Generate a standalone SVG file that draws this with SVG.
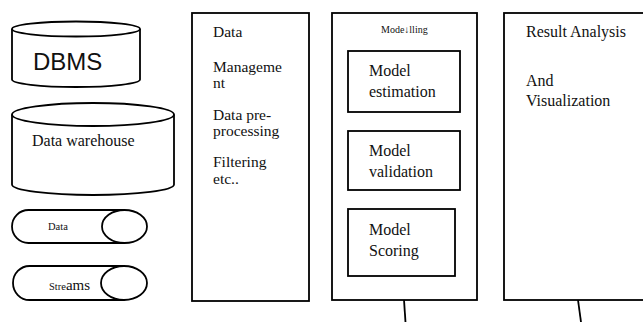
<svg xmlns="http://www.w3.org/2000/svg" width="643" height="322" viewBox="0 0 643 322">
<style>
.s{fill:#fff;stroke:#000;stroke-width:1.8}
.n{fill:none;stroke:#000;stroke-width:1.8}
.t{font-family:"Liberation Serif","Times New Roman",serif;fill:#111}
.m{font-size:16px}
.c{font-size:15.5px}
</style>
<rect width="643" height="322" fill="#fff"/>
<g id="dbms">
<path class="s" d="M12 29 V79.5 A64 7.5 0 0 0 140 79.5 V29"/>
<ellipse class="s" cx="76" cy="29" rx="64" ry="7.5"/>
<text x="33" y="70" style="font-family:'Liberation Sans',Arial,sans-serif;font-size:24px;fill:#111">DBMS</text>
</g>
<g id="warehouse">
<path class="s" d="M12 114.5 V184.5 A81 10.5 0 0 0 174 184.5 V114.5"/>
<ellipse class="s" cx="93" cy="114.5" rx="81" ry="11.5"/>
<text class="t" x="32" y="146" font-size="16">Data warehouse</text>
</g>
<g id="data-pill">
<path class="s" d="M124.5 210 H28.5 A16.5 16.5 0 0 0 28.5 243 H124.5"/>
<ellipse class="s" cx="124.5" cy="226.5" rx="22.5" ry="16.5"/>
<text class="t" x="48" y="230" font-size="10.5">Data</text>
</g>
<g id="streams-pill">
<path class="s" d="M124.5 266 H29.5 A16.5 17 0 0 0 29.5 300 H124.5"/>
<ellipse class="s" cx="124" cy="283" rx="23" ry="17"/>
<text class="t" x="49" y="290"><tspan font-size="10.5">Stre</tspan><tspan font-size="15">ams</tspan></text>
</g>
<g id="data-management">
<rect class="s" x="192" y="13" width="117" height="288"/>
<text class="t c" x="213" y="37">Data</text>
<text class="t c" x="213" y="72">Manageme</text>
<text class="t c" x="213" y="88">nt</text>
<text class="t c" x="213" y="120">Data pre-</text>
<text class="t c" x="213" y="136">processing</text>
<text class="t c" x="213" y="167">Filtering</text>
<text class="t c" x="213" y="184">etc..</text>
</g>
<g id="modelling">
<rect class="s" x="332" y="13" width="145" height="287"/>
<text class="t" x="381" y="33" font-size="10">Mode↓lling</text>
<g id="model-estimation">
<rect class="s" x="348" y="51" width="112" height="61"/>
<text class="t m" x="369" y="76">Model</text>
<text class="t m" x="369" y="97">estimation</text>
</g>
<g id="model-validation">
<rect class="s" x="348" y="131" width="112" height="59"/>
<text class="t m" x="369" y="156">Model</text>
<text class="t m" x="369" y="177">validation</text>
</g>
<g id="model-scoring">
<rect class="s" x="348" y="209" width="107" height="67"/>
<text class="t m" x="369" y="235">Model</text>
<text class="t m" x="369" y="256">Scoring</text>
</g>
</g>
<g id="result">
<rect class="s" x="504" y="13" width="145" height="287"/>
<text class="t m" x="526" y="37">Result Analysis</text>
<text class="t m" x="526" y="86">And</text>
<text class="t m" x="526" y="106">Visualization</text>
</g>
<g id="connectors">
<line class="n" x1="404" y1="300" x2="405.5" y2="322"/>
<line class="n" x1="578" y1="300" x2="581" y2="322"/>
</g>
</svg>
